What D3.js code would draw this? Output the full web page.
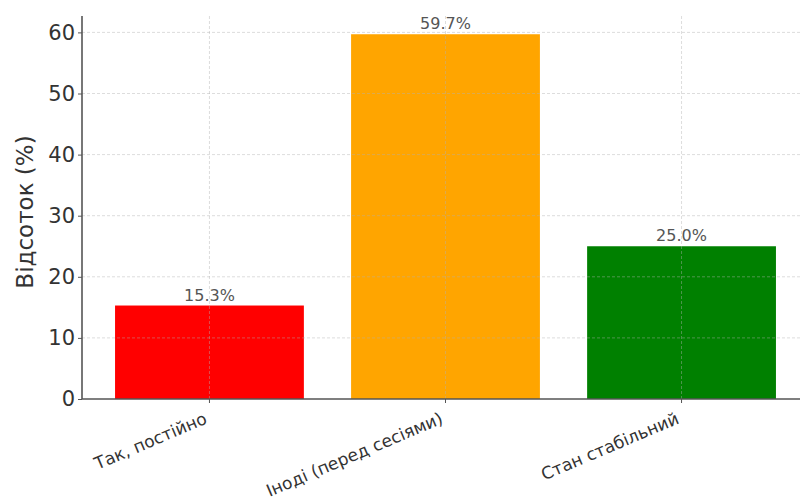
<!DOCTYPE html>
<html><head><meta charset="utf-8">
<script src="https://cdn.jsdelivr.net/npm/d3@7"></script>
<style>body{margin:0;background:#fff}svg{display:block}</style>
</head><body>
<svg id="c" width="800" height="497"></svg>
<script>
const categories = ["Так, постійно", "Іноді (перед сесіями)", "Стан стабільний"];
const values = [15.3, 59.7, 25.0];
const colors = ["#ff0000", "#ffa500", "#008000"];
const yTicks = [0, 10, 20, 30, 40, 50, 60];
const yLabel = "Відсоток (%)";

(function () {
const svg = d3.select("#c");
const pL = 82, pB = 399, pT = 16, pR = 809;
const font = "DejaVu Sans, sans-serif";

const x = d3.scaleLinear().domain([-0.54, 2.54]).range([pL, pR]);
const y = d3.scaleLinear().domain([0, 62.685]).range([pB, pT]);
const bw = x(0.4) - x(-0.4);

// bars
svg.selectAll("rect.bar").data(values).join("rect")
  .attr("class", "bar")
  .attr("x", (d, i) => x(i) - bw / 2)
  .attr("width", bw)
  .attr("y", d => y(d))
  .attr("height", d => y(0) - y(d))
  .attr("fill", (d, i) => colors[i]);

// grid (drawn over bars, faint)
const g = svg.append("g").attr("stroke", "#b0b0b0").attr("stroke-opacity", 0.55)
  .attr("stroke-dasharray", "3,2").attr("stroke-width", 0.8);
g.selectAll("line.h").data(yTicks.filter(t => t > 0)).join("line")
  .attr("x1", pL).attr("x2", 800).attr("y1", d => y(d)).attr("y2", d => y(d));
g.selectAll("line.v").data(categories).join("line")
  .attr("x1", (d, i) => x(i)).attr("x2", (d, i) => x(i)).attr("y1", pT).attr("y2", pB);

// y axis
const yAxis = d3.axisLeft(y).tickValues(yTicks).tickSize(4).tickPadding(3).tickFormat(d3.format("d"));
const ya = svg.append("g").attr("transform", `translate(${pL},0)`).call(yAxis);
ya.select(".domain").attr("stroke", "#555").attr("stroke-width", 1.6).attr("d", `M0,${pT}V${pB}`);
ya.selectAll(".tick line").attr("stroke", "#555");
ya.selectAll(".tick text").attr("font-family", font).attr("font-size", 21).attr("fill", "#333");

// x axis
const xa = svg.append("g").attr("transform", `translate(0,${pB})`);
xa.append("line").attr("x1", pL).attr("x2", 800).attr("y1", 0).attr("y2", 0)
  .attr("stroke", "#555").attr("stroke-width", 1.6);
xa.selectAll("line.t").data(categories).join("line")
  .attr("x1", (d, i) => x(i)).attr("x2", (d, i) => x(i)).attr("y1", 0).attr("y2", 4).attr("stroke", "#555");
const fs = 17, th = 23, rad = th * Math.PI / 180;
xa.selectAll("text").data(categories).join("text")
  .attr("transform", (d, i) => `translate(${x(i) - 0.22 * fs * Math.sin(rad)},${12 + 0.76 * fs * Math.cos(rad)}) rotate(${-th})`)
  .attr("text-anchor", "end")
  .attr("font-family", font).attr("font-size", fs).attr("fill", "#333")
  .text(d => d);

// value labels
svg.selectAll("text.val").data(values).join("text")
  .attr("class", "val")
  .attr("x", (d, i) => x(i)).attr("y", d => y(d) - 5)
  .attr("text-anchor", "middle")
  .attr("font-family", font).attr("font-size", 16).attr("fill", "#555")
  .text(d => d.toFixed(1) + "%");

// y label
svg.append("text").attr("transform", `translate(33,212) rotate(-90)`)
  .attr("text-anchor", "middle").attr("font-family", font).attr("font-size", 23).attr("fill", "#333")
  .text(yLabel);
})();
</script>
</body></html>
